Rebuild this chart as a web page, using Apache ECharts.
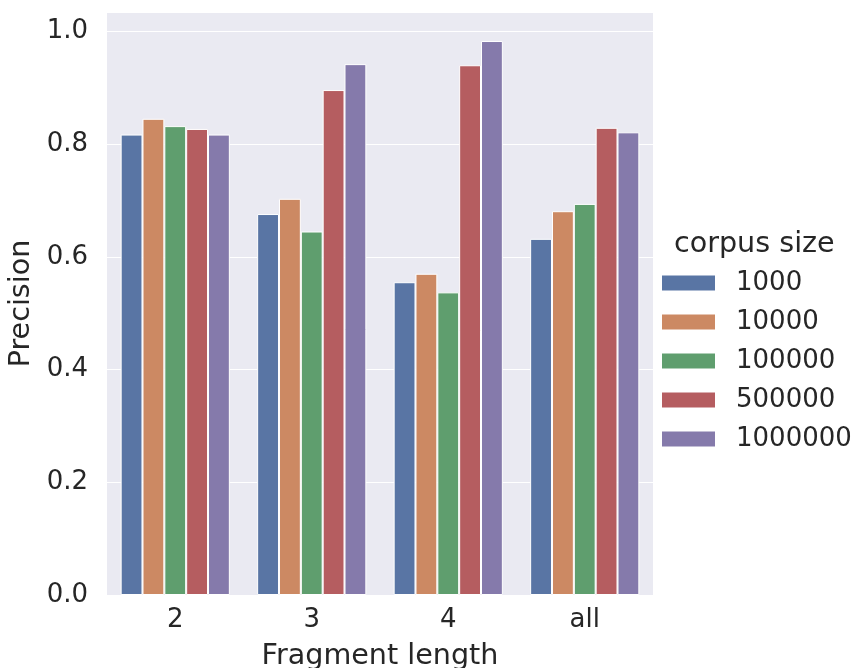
<!DOCTYPE html>
<html>
<head>
<meta charset="utf-8">
<script src="https://cdn.jsdelivr.net/npm/echarts@6/dist/echarts.min.js"></script>
<style>
  html, body { margin: 0; padding: 0; background: #fff; }
  #chart { width: 851px; height: 668px; }
</style>
</head>
<body>
<div id="chart"></div>
<script>
// fragment lengths on the x axis
const categories = ["2", "3", "4", "all"];
const corpusSizes = ["1000", "10000", "100000", "500000", "1000000"];

// precision per corpus size, one value per fragment length
const p1000 = [0.817, 0.676, 0.555, 0.632];
const p10000 = [0.845, 0.703, 0.570, 0.681];
const p100000 = [0.832, 0.645, 0.537, 0.694];
const p500000 = [0.827, 0.896, 0.940, 0.829];
const p1000000 = [0.817, 0.942, 0.983, 0.821];

const yTicks = [0, 0.2, 0.4, 0.6, 0.8, 1.0];

const colors = ["#5975a4", "#cc8963", "#5f9e6e", "#b55d60", "#857aab"];
const seriesValues = [p1000, p10000, p100000, p500000, p1000000];

const font = "DejaVu Sans";
const textColor = "#262626";

const chart = echarts.init(document.getElementById("chart"));

const option = {
  animation: false,
  textStyle: { fontFamily: font, color: textColor },
  grid: {
    left: 107,
    right: 198,
    top: 12,
    bottom: 73,
    outerBoundsMode: "none",
    show: true,
    backgroundColor: "#eaeaf2",
    borderWidth: 0,
  },
  legend: {
    orient: "vertical",
    left: 655,
    top: 265,
    itemWidth: 55,
    itemHeight: 17,
    itemGap: 13,
    icon: "rect",
    textStyle: {
      fontSize: 26,
      color: textColor,
      fontFamily: font,
      padding: [0, 0, 0, 15],
    },
    data: corpusSizes,
  },
  graphic: [
    {
      type: "text",
      left: 674,
      top: 230,
      style: { text: "corpus size", font: "28.6px DejaVu Sans", fill: textColor },
    },
  ],
  xAxis: {
    type: "category",
    data: categories,
    name: "Fragment length",
    nameLocation: "middle",
    nameGap: 47,
    nameTextStyle: { fontSize: 28.6, color: textColor, fontFamily: font },
    axisLine: { show: false },
    axisTick: { show: false },
    axisLabel: { fontSize: 26, color: textColor, margin: 12, fontFamily: font },
    splitLine: { show: false },
  },
  yAxis: {
    type: "value",
    min: 0,
    max: 1.0345,
    interval: 0.2,
    name: "Precision",
    nameLocation: "middle",
    nameGap: 71,
    nameTextStyle: { fontSize: 28.6, color: textColor, fontFamily: font },
    axisLine: { show: false },
    axisTick: { show: false },
    axisLabel: {
      fontSize: 26,
      color: textColor,
      margin: 19,
      fontFamily: font,
      showMaxLabel: false,
      formatter: (v) => (yTicks.some((t) => Math.abs(t - v) < 1e-6) ? v.toFixed(1) : ""),
    },
    splitLine: { lineStyle: { color: "#ffffff", width: 1.2 } },
  },
  series: corpusSizes.map((name, i) => ({
    name,
    type: "bar",
    data: seriesValues[i],
    barGap: "0%",
    barCategoryGap: "20%",
    itemStyle: { color: colors[i], borderColor: "#ffffff", borderWidth: 1 },
  })),
};

chart.setOption(option);
</script>
</body>
</html>
